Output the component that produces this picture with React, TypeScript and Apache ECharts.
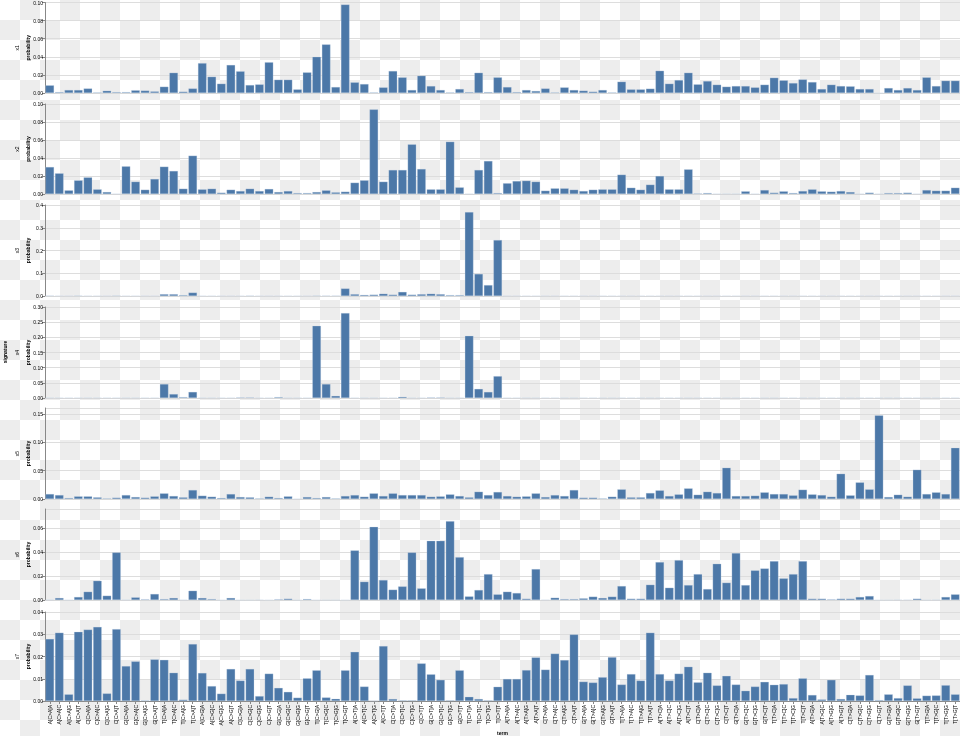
import React, { useEffect, useRef } from "react";
import * as echarts from "echarts";

const MUTATIONS = ["C>A", "C>G", "C>T", "T>A", "T>C", "T>G"];
const BASES = ["A", "C", "G", "T"];
const TERMS: string[] = [];
MUTATIONS.forEach((m) => BASES.forEach((a) => BASES.forEach((b) => TERMS.push(`${a}[${m}]${b}`))));

const SIGNATURES = ["x1", "x2", "x3", "x4", "x5", "x6", "x7"];

const x1 = [0.0085,0.001,0.0033,0.0033,0.005,0.0007,0.0025,0.001,0.001,0.003,0.0027,0.0018,0.007,0.0224,0.0015,0.005,
0.033,0.018,0.0103,0.031,0.024,0.0088,0.0095,0.034,0.0147,0.0147,0.004,0.0228,0.040,0.0537,0.0066,0.0978,
0.0118,0.0099,0.0007,0.0062,0.0243,0.0173,0.0033,0.0191,0.0077,0.0033,0.0007,0.0044,0.001,0.0224,0.001,0.0173,
0.0066,0.001,0.0033,0.0022,0.005,0.0007,0.0062,0.0033,0.0026,0.0015,0.0033,0.0007,0.0125,0.004,0.004,0.0048,
0.0246,0.0103,0.0143,0.0224,0.0096,0.0132,0.0092,0.007,0.0077,0.0077,0.0062,0.0092,0.0169,0.014,0.011,0.015,
0.0121,0.0044,0.0092,0.0077,0.0074,0.0044,0.0044,0,0.0055,0.0033,0.0055,0.0033,0.0173,0.0077,0.0136,0.0136];

const x2 = [0.030,0.023,0.0041,0.0152,0.0185,0.0052,0.0022,0.0004,0.0307,0.0137,0.0048,0.0167,0.0304,0.0256,0.0059,0.0426,
0.0052,0.0059,0.0015,0.0048,0.0033,0.0059,0.0033,0.0056,0.0022,0.0033,0.0011,0.0011,0.0022,0.0041,0.0019,0.0026,
0.0126,0.0152,0.094,0.0137,0.0267,0.0267,0.0552,0.0278,0.0052,0.0052,0.0581,0.0074,0.0004,0.0267,0.0367,0.0011,
0.012,0.0144,0.0148,0.0137,0.0037,0.0063,0.0063,0.0048,0.0033,0.0048,0.0052,0.0052,0.0215,0.007,0.0048,0.0104,
0.020,0.0052,0.0052,0.0274,0.0007,0.0011,0.0004,0.0004,0.0004,0.003,0.0004,0.0044,0.0015,0.003,0.0011,0.0033,
0.0052,0.003,0.0026,0.0033,0.0022,0.0004,0.0015,0.0004,0.0011,0.0011,0.0015,0.0004,0.0044,0.0037,0.0037,0.007];

const x3 = [0.002,0.001,0.001,0.002,0.001,0.001,0.001,0.002,0.001,0.001,0.001,0.001,0.008,0.008,0.004,0.015,
0.001,0.001,0.001,0.001,0.001,0.002,0.001,0.001,0.001,0.001,0.001,0.001,0.002,0.002,0.002,0.033,
0.008,0.005,0.006,0.01,0.006,0.018,0.006,0.008,0.01,0.008,0.004,0.004,0.369,0.097,0.048,0.246,
0.001,0.001,0.001,0.001,0.001,0.001,0.001,0.001,0.001,0.001,0.001,0.001,0.001,0.001,0.001,0.001,
0.001,0.001,0.001,0.001,0.001,0.001,0.001,0.001,0.001,0.001,0.001,0.001,0.001,0.001,0.001,0.001,
0.001,0.001,0.001,0.001,0.001,0.001,0.001,0.001,0.001,0.001,0.001,0.001,0.001,0.001,0.001,0.001];

const x4 = [0.001,0.001,0.001,0.001,0.001,0.001,0.001,0.001,0.001,0.001,0.001,0.001,0.046,0.013,0.003,0.02,
0.001,0.001,0.001,0.001,0.002,0.002,0.001,0.001,0.003,0.001,0.001,0.001,0.238,0.046,0.007,0.28,
0.001,0.001,0.001,0.001,0.001,0.004,0.001,0.001,0.002,0.002,0.001,0.001,0.205,0.03,0.02,0.072,
0.001,0.001,0.001,0.001,0.001,0.001,0.001,0.001,0.001,0.001,0.001,0.001,0.001,0.001,0.001,0.001,
0.001,0.001,0.001,0.001,0.001,0.001,0.001,0.001,0.001,0.001,0.001,0.001,0.001,0.001,0.001,0.001,
0.001,0.001,0.001,0.001,0.001,0.001,0.001,0.001,0.001,0.001,0.001,0.001,0.001,0.001,0.001,0.001];

const x5 = [0.0088,0.007,0.0018,0.0047,0.0047,0.003,0.0012,0.0024,0.007,0.0035,0.0024,0.0047,0.010,0.0053,0.003,0.0159,
0.0059,0.0041,0.0018,0.0088,0.0035,0.003,0.0012,0.0041,0.0018,0.0047,0.0006,0.0035,0.0018,0.0035,0.0012,0.0053,
0.007,0.0041,0.010,0.0053,0.010,0.007,0.007,0.007,0.0041,0.0047,0.0082,0.0053,0.003,0.0129,0.007,0.0124,
0.0053,0.0041,0.0047,0.010,0.0035,0.007,0.0053,0.0159,0.0024,0.0024,0.0012,0.0041,0.0171,0.003,0.003,0.0106,
0.0153,0.0053,0.0082,0.0188,0.0076,0.0129,0.0106,0.0553,0.0053,0.0053,0.0059,0.0118,0.0088,0.0088,0.0065,0.0165,
0.0082,0.007,0.0041,0.0447,0.0065,0.0294,0.0171,0.148,0.0035,0.0076,0.0041,0.0518,0.0088,0.0118,0.0088,0.0906];

const x6 = [0.0003,0.0017,0,0.0025,0.0069,0.016,0.0036,0.0395,0.0003,0.0022,0.0006,0.005,0.0008,0.0017,0.0003,0.0077,
0.0017,0.0008,0,0.0017,0,0,0.0003,0,0.0006,0.0011,0,0.0008,0,0,0,0,
0.0412,0.0152,0.0608,0.0166,0.0086,0.0113,0.0395,0.0097,0.0492,0.0492,0.0655,0.0356,0.003,0.0083,0.0215,0.0047,
0.0069,0.0058,0.0011,0.0257,0.0003,0.0019,0.0008,0.0008,0.0014,0.0028,0.0017,0.0028,0.0116,0.0011,0.0011,0.0127,
0.0315,0.0102,0.0331,0.0124,0.0215,0.0091,0.0301,0.0144,0.039,0.0124,0.0246,0.0262,0.0323,0.018,0.0215,0.0323,
0.0011,0.0011,0.0006,0.0011,0.0011,0.0025,0.0033,0,0,0.0003,0.0003,0.0011,0,0.0003,0.0025,0.0047];

const x7 = [0.0279,0.0307,0.003,0.0311,0.0321,0.0333,0.0034,0.0323,0.0157,0.0178,0.0003,0.0187,0.0185,0.0127,0.0006,0.0256,
0.0126,0.0067,0.0033,0.0144,0.0092,0.0144,0.0022,0.0123,0.0059,0.0041,0.0015,0.0102,0.0138,0.0016,0.001,0.0138,
0.0221,0.0065,0.0001,0.0247,0.0009,0.0003,0.0003,0.0169,0.012,0.0095,0.0003,0.0138,0.0019,0.0009,0.0003,0.0064,
0.0099,0.0099,0.0139,0.0196,0.0141,0.0213,0.0184,0.0299,0.0087,0.0083,0.0107,0.0197,0.0074,0.0121,0.0092,0.0307,
0.0121,0.0092,0.0123,0.0154,0.0084,0.0127,0.007,0.0113,0.0074,0.0046,0.0065,0.0086,0.0073,0.0076,0.0013,0.0102,
0.0027,0.0007,0.0095,0.0009,0.0028,0.0025,0.0117,0.0004,0.003,0.0013,0.007,0.0012,0.0024,0.0025,0.0071,0.003];

const VALUES = [x1, x2, x3, x4, x5, x6, x7];
const Y_MAX = [0.1, 0.1, 0.4, 0.3, 0.161, 0.0756, 0.04];
const Y_INTERVAL = [0.02, 0.02, 0.1, 0.05, 0.05, 0.02, 0.01];
const Y_DECIMALS = [2, 2, 1, 2, 2, 2, 2];

const PANEL_TOP = [2.5, 104, 205, 307, 408, 509, 612];
const PANEL_BOTTOM = [93, 194, 296, 398, 499, 600, 701];
const GRID_LEFT = 45;
const GRID_WIDTH = 915;
const FONT = "Liberation Sans, Arial, Helvetica, sans-serif";
const BAR_COLOR = "#4c78a8";

export default function App() {
  const ref = useRef<HTMLDivElement>(null);
  useEffect(() => {
    if (!ref.current) return;
    const chart = echarts.init(ref.current, undefined, { renderer: "svg" });
    const n = SIGNATURES.length;
    const grids: any[] = [];
    const xAxes: any[] = [];
    const yAxes: any[] = [];
    const series: any[] = [];
    const graphics: any[] = [];
    for (let i = 0; i < n; i++) {
      const last = i === n - 1;
      grids.push({
        left: GRID_LEFT,
        top: PANEL_TOP[i],
        width: GRID_WIDTH,
        height: PANEL_BOTTOM[i] - PANEL_TOP[i],
        containLabel: false,
      });
      xAxes.push({
        type: "category",
        gridIndex: i,
        data: TERMS,
        boundaryGap: true,
        axisLine: { show: true, lineStyle: { color: last ? "#888" : "#d8d8d8", width: 1 } },
        axisTick: { show: last, length: 3, alignWithLabel: true, lineStyle: { color: "#888" } },
        axisLabel: {
          show: last,
          interval: 0,
          rotate: 90,
          fontSize: 5,
          margin: 4,
          color: "#000",
          fontFamily: FONT,
        },
        splitLine: { show: false },
      });
      const dec = Y_DECIMALS[i];
      yAxes.push({
        type: "value",
        gridIndex: i,
        min: 0,
        max: Y_MAX[i],
        interval: Y_INTERVAL[i],
        axisLine: { show: true, lineStyle: { color: "#888" } },
        axisTick: { show: true, length: 3, lineStyle: { color: "#888" } },
        axisLabel: {
          fontSize: 5,
          margin: 2,
          color: "#000",
          fontFamily: FONT,
          showMaxLabel: i === 4 || i === 5 ? false : true,
          formatter: (v: number) => v.toFixed(dec),
        },
        splitLine: { show: true, lineStyle: { color: "#dddddd", width: 1 } },
      });
      series.push({
        type: "bar",
        xAxisIndex: i,
        yAxisIndex: i,
        data: VALUES[i],
        barCategoryGap: "10%",
        itemStyle: { color: BAR_COLOR, borderColor: "rgba(200,215,235,0.7)", borderWidth: 0.4 },
      });
      const mid = (PANEL_TOP[i] + PANEL_BOTTOM[i]) / 2;
      graphics.push({
        type: "text",
        x: 28,
        y: mid,
        rotation: Math.PI / 2,
        style: {
          text: "probability",
          fontSize: 5,
          fontWeight: "bold",
          fontFamily: FONT,
          fill: "#000",
          align: "center",
          verticalAlign: "middle",
        },
      });
      graphics.push({
        type: "text",
        x: 17,
        y: mid,
        rotation: Math.PI / 2,
        style: {
          text: SIGNATURES[i],
          fontSize: 5,
          fontFamily: FONT,
          fill: "#000",
          align: "center",
          verticalAlign: "middle",
        },
      });
    }
    graphics.push({
      type: "text",
      x: 4.5,
      y: 352,
      rotation: Math.PI / 2,
      style: {
        text: "signature",
        fontSize: 5,
        fontWeight: "bold",
        fontFamily: FONT,
        fill: "#000",
        align: "center",
        verticalAlign: "middle",
      },
    });
    graphics.push({
      type: "text",
      x: GRID_LEFT + GRID_WIDTH / 2,
      y: 733,
      style: {
        text: "term",
        fontSize: 5,
        fontWeight: "bold",
        fontFamily: FONT,
        fill: "#000",
        align: "center",
        verticalAlign: "middle",
      },
    });
    chart.setOption({
      animation: false,
      grid: grids,
      xAxis: xAxes,
      yAxis: yAxes,
      series,
      graphic: graphics,
    });
    return () => chart.dispose();
  }, []);
  return (
    <div
      style={{
        position: "fixed",
        left: 0,
        top: 0,
        width: 960,
        height: 736,
        background: "repeating-conic-gradient(#ededed 0% 25%, #ffffff 0% 50%) 0 0 / 40px 40px",
      }}
    >
      <div ref={ref} style={{ width: 960, height: 736 }} />
    </div>
  );
}
